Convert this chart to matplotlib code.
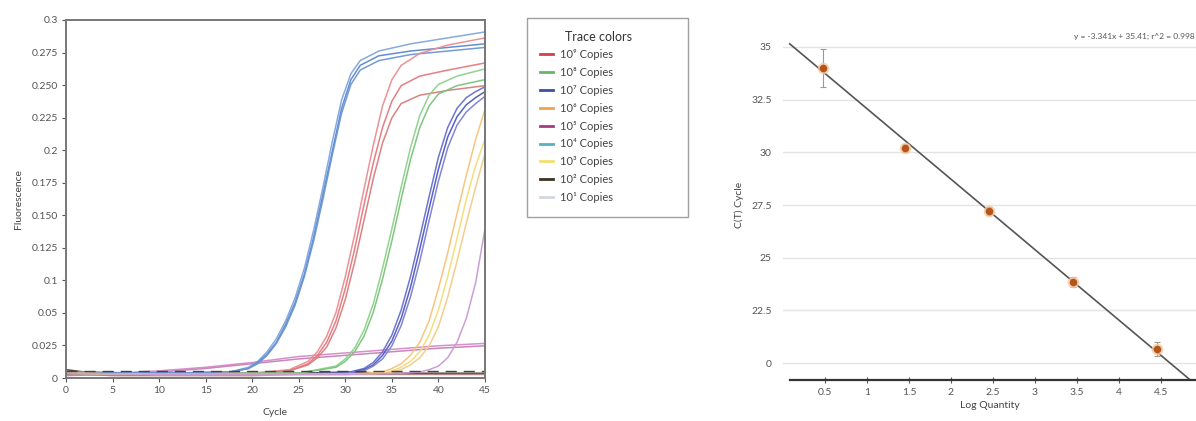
import matplotlib
matplotlib.use("Agg")
import matplotlib.pyplot as plt
from matplotlib.lines import Line2D
from matplotlib.patches import Rectangle

plt.rcParams['font.family'] = ['Lato', 'DejaVu Sans']

# ---- amplification plot data (cycle, fluorescence) ----
blue_cycles = [0, 10, 17.6, 19.6, 20.6, 21.6, 22.6, 23.6, 24.6, 25.6, 26.6, 27.6, 28.6, 29.6,
               30.6, 31.6, 33.6, 37, 41, 45]
blue_1 = [0.005, 0.004, 0.005, 0.009, 0.014, 0.022, 0.033, 0.048, 0.067, 0.092, 0.124, 0.160,
          0.198, 0.233, 0.255, 0.266, 0.274, 0.280, 0.285, 0.290]
blue_2 = [0.005, 0.004, 0.005, 0.008, 0.013, 0.020, 0.030, 0.045, 0.063, 0.087, 0.118, 0.154,
          0.190, 0.226, 0.250, 0.262, 0.270, 0.274, 0.277, 0.280]
blue_3 = [0.005, 0.004, 0.005, 0.008, 0.012, 0.019, 0.029, 0.043, 0.061, 0.085, 0.115, 0.150,
          0.187, 0.222, 0.246, 0.258, 0.266, 0.271, 0.274, 0.277]

red_cycles = [0, 10, 20, 24, 26, 27, 28, 29, 30, 31, 32, 33, 34, 35, 36, 38, 41, 45]
red_1 = [0.004, 0.003, 0.004, 0.007, 0.014, 0.022, 0.035, 0.055, 0.085, 0.120, 0.158, 0.195,
         0.228, 0.250, 0.262, 0.272, 0.279, 0.285]
red_2 = [0.004, 0.003, 0.004, 0.006, 0.012, 0.019, 0.030, 0.048, 0.075, 0.108, 0.145, 0.180,
         0.210, 0.232, 0.245, 0.253, 0.258, 0.264]
red_3 = [0.004, 0.003, 0.004, 0.006, 0.011, 0.017, 0.026, 0.042, 0.066, 0.097, 0.132, 0.167,
         0.197, 0.218, 0.230, 0.237, 0.241, 0.245]

green_cycles = [0, 10, 20, 25, 29, 30, 31, 32, 33, 34, 35, 36, 37, 38, 39, 40, 42, 45]
green_1 = [0.004, 0.003, 0.004, 0.004, 0.010, 0.016, 0.025, 0.040, 0.062, 0.092, 0.125, 0.160,
           0.193, 0.220, 0.237, 0.246, 0.253, 0.259]
green_2 = [0.004, 0.003, 0.004, 0.004, 0.009, 0.014, 0.022, 0.035, 0.055, 0.083, 0.115, 0.150,
           0.183, 0.210, 0.228, 0.238, 0.245, 0.250]

navy_cycles = [0, 10, 20, 30, 32, 33, 34, 35, 36, 37, 38, 39, 40, 41, 42, 43, 44, 45]
navy_1 = [0.004, 0.003, 0.003, 0.004, 0.008, 0.013, 0.022, 0.036, 0.057, 0.085, 0.118, 0.152,
          0.185, 0.210, 0.226, 0.235, 0.240, 0.244]
navy_2 = [0.004, 0.003, 0.003, 0.004, 0.007, 0.011, 0.019, 0.031, 0.050, 0.076, 0.108, 0.142,
          0.175, 0.202, 0.219, 0.229, 0.235, 0.240]
navy_3 = [0.004, 0.003, 0.003, 0.004, 0.006, 0.010, 0.016, 0.027, 0.044, 0.068, 0.098, 0.132,
          0.165, 0.193, 0.212, 0.223, 0.230, 0.236]

late_cycles = [0, 10, 20, 30, 34, 35, 36, 37, 38, 39, 40, 41, 42, 43, 44, 45]
orange_1 = [0.004, 0.003, 0.003, 0.003, 0.005, 0.008, 0.012, 0.019, 0.030, 0.048, 0.075, 0.105,
            0.138, 0.170, 0.200, 0.225]
yellow_1 = [0.004, 0.003, 0.003, 0.003, 0.004, 0.006, 0.009, 0.014, 0.022, 0.036, 0.057, 0.085,
            0.117, 0.150, 0.178, 0.200]
yellow_2 = [0.004, 0.003, 0.003, 0.003, 0.004, 0.005, 0.007, 0.011, 0.017, 0.027, 0.043, 0.068,
            0.098, 0.130, 0.160, 0.188]

purple_cycles = [0, 10, 20, 30, 36, 38, 39, 40, 41, 42, 43, 44, 45]
purple_1 = [0.004, 0.003, 0.003, 0.003, 0.004, 0.005, 0.007, 0.010, 0.017, 0.030, 0.050, 0.080, 0.125]

drift_cycles = [0, 5, 10, 15, 20, 25, 30, 35, 40, 45]
drift_1 = [0.003, 0.004, 0.006, 0.009, 0.013, 0.018, 0.021, 0.024, 0.027, 0.029]
drift_2 = [0.002, 0.003, 0.005, 0.008, 0.012, 0.016, 0.019, 0.022, 0.025, 0.027]

flat_cycles = [0, 2, 5, 10, 15, 20, 25, 30, 35, 40, 45]
flat_1 = [0.007, 0.005, 0.004, 0.004, 0.004, 0.004, 0.004, 0.005, 0.004, 0.004, 0.004]
flat_2 = [0.003, 0.003, 0.002, 0.002, 0.002, 0.002, 0.003, 0.003, 0.003, 0.003, 0.003]

threshold = 0.006

fluor_ticks = ['0', '0.025', '0.05', '0.1', '0.125', '0.150', '0.175', '0.2',
               '0.225', '0.250', '0.275', '0.3']
cycle_ticks = [0, 5, 10, 15, 20, 25, 30, 35, 40, 45]

legend_labels = ['10⁹ Copies', '10⁸ Copies', '10⁷ Copies', '10⁶ Copies', '10⁵ Copies',
                 '10⁴ Copies', '10³ Copies', '10² Copies', '10¹ Copies']
legend_colors = ['#d0404c', '#66b866', '#3d4f9e', '#f2a24e', '#a43a84',
                 '#58b0c8', '#f0e070', '#3c3222', '#d2d6de']

# ---- standard curve data ----
log_qty = [0.48, 1.45, 2.45, 3.46, 4.46]
ct_mean = [34.0, 30.2, 27.22, 23.85, 20.67]
ct_err = [0.9, 0.2, 0.2, 0.25, 0.35]
fit_slope = -3.341
fit_icpt = 35.41
fit_r2 = 0.998
ct_ticks = [20, 22.5, 25, 27.5, 30, 32.5, 35]
ct_ticklabels = ['0', '22.5', '25', '27.5', '30', '32.5', '35']
lq_ticks = [0.5, 1, 1.5, 2, 2.5, 3, 3.5, 4, 4.5]

W, H = 1196, 421
fig = plt.figure(figsize=(W / 100, H / 100), dpi=100)

# ================= amplification plot =================
ax = fig.add_axes([0.0552, 0.1021, 0.3503, 0.8504])
traces = [
    (drift_cycles, drift_1, '#d48ac8'), (drift_cycles, drift_2, '#c77fb9'),
    (flat_cycles, flat_1, '#4a3c2c'), (flat_cycles, flat_2, '#b08080'),
    (blue_cycles, blue_1, '#7ea6de'), (blue_cycles, blue_2, '#5b88cc'), (blue_cycles, blue_3, '#6b96d4'),
    (red_cycles, red_1, '#ec8c90'), (red_cycles, red_2, '#e6767e'), (red_cycles, red_3, '#d87c7c'),
    (green_cycles, green_1, '#8fd08c'), (green_cycles, green_2, '#78c478'),
    (navy_cycles, navy_1, '#6670cc'), (navy_cycles, navy_2, '#5058c0'), (navy_cycles, navy_3, '#7a80d4'),
    (late_cycles, orange_1, '#f6c27a'), (late_cycles, yellow_1, '#f4dc78'), (late_cycles, yellow_2, '#f2cc88'),
    (purple_cycles, purple_1, '#c89ad4'),
]
for cyc, vals, col in traces:
    ax.plot(cyc, vals, color=col, lw=1.1, alpha=0.95)
ax.axhline(threshold, color='#444444', lw=1.0, dashes=(8, 5))

ax.set_xlim(0, 45)
ax.set_ylim(0, 0.3)
ax.set_xticks(cycle_ticks)
ax.set_xticklabels([str(c) for c in cycle_ticks])
ax.set_yticks([i * 0.3 / 11 for i in range(12)])
ax.set_yticklabels(fluor_ticks)
ax.tick_params(labelsize=7.5, colors='#555555', length=3, width=0.8, pad=3)
for s in ax.spines.values():
    s.set_color('#777777')
    s.set_linewidth(1.4)
ax.set_xlabel('Cycle', fontsize=7.5, color='#444444', labelpad=9)
ax.set_ylabel('Fluorescence', fontsize=7.5, color='#444444', labelpad=6)

# legend box drawn by hand: it is much wider than its entries
fig.patches.append(Rectangle((527 / W, 1 - 217 / H), 161 / W, 199 / H, transform=fig.transFigure,
                             facecolor='white', edgecolor='#a0a0a0', lw=1.0))
fig.text(565 / W, 1 - 37 / H, 'Trace colors', fontsize=9, color='#333333', va='center', ha='left')
handles = [Line2D([], [], color=c, lw=2) for c in legend_colors]
leg = fig.legend(handles, legend_labels, loc='upper left',
                 bbox_to_anchor=(540 / W, 1 - 49 / H), fontsize=8,
                 frameon=False, handlelength=1.2, handletextpad=0.6,
                 labelspacing=0.62, borderpad=0, borderaxespad=0)
for t in leg.get_texts():
    t.set_color('#444444')

# ================= standard curve =================
bx = fig.add_axes([0.6547, 0.0974, 0.3453, 0.8313])
bx.set_xlim(0, 4.92)
bx.set_ylim(19.2, 35.8)
bx.set_yticks(ct_ticks)
bx.set_yticklabels(ct_ticklabels)
bx.set_xticks(lq_ticks)
bx.set_xticklabels(['0.5', '1', '1.5', '2', '2.5', '3', '3.5', '4', '4.5'])
bx.grid(axis='y', color='#e4e4e4', lw=1.0)
bx.set_axisbelow(True)
for side in ['left', 'right', 'top']:
    bx.spines[side].set_visible(False)
bx.spines['bottom'].set_color('#333333')
bx.spines['bottom'].set_linewidth(1.6)
bx.spines['bottom'].set_bounds(0.08, 4.92)
bx.tick_params(axis='y', length=0, labelsize=7.5, colors='#555555', pad=8)
bx.tick_params(axis='x', direction='inout', length=4, width=0.8, labelsize=7.5,
               colors='#555555', pad=4)
bx.set_xlabel('Log Quantity', fontsize=7.5, color='#444444', labelpad=3)
bx.set_ylabel('C(T) Cycle', fontsize=7.5, color='#444444', labelpad=5)

fit_x = [0.08, 4.92]
fit_y = [fit_slope * x + fit_icpt for x in fit_x]
bx.plot(fit_x, fit_y, color='#555555', lw=1.2, zorder=2)
bx.errorbar(log_qty, ct_mean, yerr=ct_err, fmt='none', ecolor='#999999', elinewidth=0.8,
            capsize=2.5, capthick=0.8, zorder=3)
bx.scatter(log_qty, ct_mean, s=70, color='#f7c9a0', alpha=0.8, zorder=4, linewidths=0)
bx.scatter(log_qty, ct_mean, s=30, color='#b4561c', zorder=5, linewidths=0)
bx.text(4.9, 35.5, f'y = {fit_slope}x + {fit_icpt}; r^2 = {fit_r2}', fontsize=6,
        color='#555555', ha='right', va='center')

fig.savefig('out.png', dpi=100)
